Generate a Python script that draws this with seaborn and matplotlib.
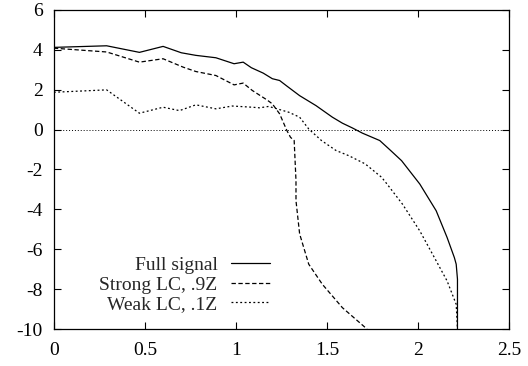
import matplotlib
matplotlib.use("Agg")
import matplotlib.pyplot as plt
import numpy as np
import pandas as pd
import seaborn as sns

# values
full_x = [0.0, 0.29, 0.47, 0.60, 0.70, 0.78, 0.89, 0.99, 1.04, 1.085, 1.15, 1.20, 1.24, 1.28,
          1.35, 1.44, 1.53, 1.585, 1.64, 1.695, 1.79, 1.85, 1.91, 2.01, 2.10, 2.16, 2.20, 2.21,
          2.217, 2.217]
full_y = [4.12, 4.20, 3.87, 4.17, 3.85, 3.72, 3.60, 3.30, 3.38, 3.10, 2.83, 2.55, 2.46, 2.18,
          1.70, 1.20, 0.62, 0.32, 0.08, -0.18, -0.55, -1.05, -1.56, -2.73, -4.07, -5.41, -6.42,
          -6.75, -7.5, -10.0]

strong_x = [0.0, 0.29, 0.47, 0.60, 0.71, 0.78, 0.89, 0.99, 1.04, 1.09, 1.17, 1.20, 1.24, 1.28,
            1.30, 1.32, 1.33, 1.33, 1.35, 1.40, 1.475, 1.585, 1.72]
strong_y = [4.08, 3.89, 3.38, 3.55, 3.13, 2.91, 2.71, 2.24, 2.33, 1.96, 1.49, 1.29, 0.79, -0.05,
            -0.39, -0.55, -2.56, -3.57, -5.23, -6.75, -7.76, -8.93, -10.0]

weak_x = [0.0, 0.29, 0.47, 0.60, 0.69, 0.78, 0.89, 0.98, 1.09, 1.13, 1.18, 1.29, 1.35, 1.40,
          1.47, 1.55, 1.62, 1.71, 1.80, 1.83, 1.915, 2.01, 2.10, 2.16, 2.21, 2.217]
weak_y = [1.87, 1.99, 0.82, 1.12, 0.95, 1.24, 1.04, 1.18, 1.12, 1.09, 1.16, 0.87, 0.62, 0.03,
          -0.55, -1.05, -1.31, -1.72, -2.39, -2.73, -3.74, -5.08, -6.58, -7.59, -8.76, -10.0]

labels = ["Full signal", "Strong LC, .9Z", "Weak LC, .1Z"]
x_ticks = [0, 0.5, 1, 1.5, 2, 2.5]
y_ticks = [-10, -8, -6, -4, -2, 0, 2, 4, 6]

sns.set_style("ticks")
plt.rcParams["font.family"] = ["Liberation Serif", "DejaVu Serif"]
plt.rcParams["font.size"] = 14
plt.rcParams["axes.unicode_minus"] = False

fig = plt.figure(figsize=(5.28, 3.66), dpi=100)
ax = fig.add_axes([0.102, 0.101, 0.862, 0.872])

ax.axhline(0, color="black", lw=0.7, ls=(0, (1, 2)))

styles = ["-", (0, (3.5, 2)), (0, (1.5, 2))]
series = [(full_x, full_y), (strong_x, strong_y), (weak_x, weak_y)]
for (xs, ys), lab, st in zip(series, labels, styles):
    df = pd.DataFrame({"x": xs, "y": ys})
    sns.lineplot(data=df, x="x", y="y", sort=False, estimator=None, ax=ax,
                 color="black", lw=0.9, linestyle=st, label=lab)

ax.set_xlim(0, 2.5)
ax.set_ylim(-10, 6)
ax.set_xticks(x_ticks)
ax.set_xticklabels([f"{t:g}" for t in x_ticks])
ax.set_yticks(y_ticks)
ax.set_xlabel("")
ax.set_ylabel("")
ax.tick_params(direction="in", top=True, right=True, length=5, width=0.8,
               labelsize=14, colors="black")
ax.tick_params(axis="y", pad=8)
ax.tick_params(axis="x", pad=9)
for sp in ax.spines.values():
    sp.set_linewidth(0.9)
    sp.set_color("black")

leg = ax.legend(loc="lower right", bbox_to_anchor=(0.475, 0.05), frameon=False,
                markerfirst=False, handlelength=2.0, handletextpad=0.7,
                labelspacing=0.1, borderpad=0, borderaxespad=0, fontsize=14)
leg._legend_box.align = "right"

fig.savefig("out.png", dpi=100)
